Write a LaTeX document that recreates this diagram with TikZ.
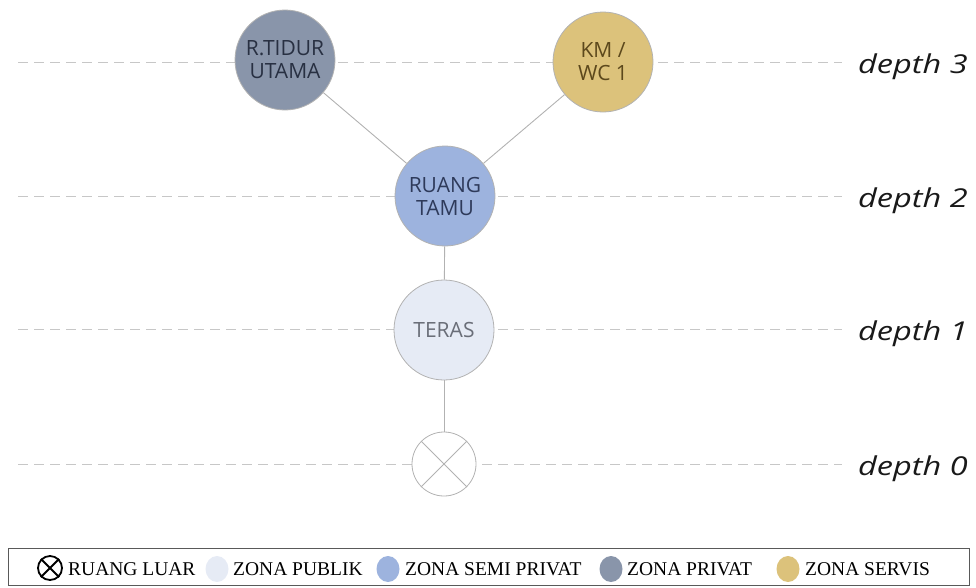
\documentclass[tikz,border=0pt]{standalone}
\usepackage{fontspec}
\usepackage{graphicx}
\setmainfont{Liberation Serif}
\newfontfamily\nodefont{Open Sans}
\usetikzlibrary{shapes.geometric}
\tikzset{
  level/.style={draw=black!22, line width=0.8pt, dash pattern=on 10pt off 6pt},
  link/.style={draw=black!30, line width=0.9pt},
  room/.style={circle, minimum size=100pt, inner sep=0pt, draw=black!30, line width=0.8pt, font=\nodefont\fontsize{21}{23}\selectfont, align=center},
  depthlbl/.style={anchor=base west, inner sep=0pt, font=\nodefont\itshape\fontsize{26}{28}\selectfont, text=black!90},
  legtxt/.style={anchor=base west, inner sep=0pt, font=\fontsize{19.5}{21}\selectfont},
  legdot/.style={ellipse, minimum width=23pt, minimum height=26pt, inner sep=0pt}
}
\definecolor{cpriv}{HTML}{8995AA}
\definecolor{csemi}{HTML}{9DB3DE}
\definecolor{cpub}{HTML}{E6EBF5}
\definecolor{cserv}{HTML}{DCC27B}
\definecolor{tpriv}{HTML}{283042}
\definecolor{tsemi}{HTML}{2E3A5A}
\definecolor{tpub}{HTML}{6A6E78}
\definecolor{tserv}{HTML}{5C481C}
\begin{document}
\begin{tikzpicture}[x=1pt,y=-1pt]
\useasboundingbox (0,0) rectangle (976,587);
% depth levels
\foreach \yy/\n in {62/3,196/2,329/1,464/0}{
  \draw[level] (18,\yy) -- (842,\yy);
  \node[depthlbl] (d\n) at (858,\yy+11) {\scalebox{1.25}[1]{depth \n}};
}
% nodes
\node[room, fill=cpriv, text=tpriv] (tidur) at (285,60) {R.TIDUR\\UTAMA};
\node[room, fill=cserv, text=tserv] (km) at (603,62) {KM /\\WC 1};
\node[room, fill=csemi, text=tsemi] (tamu) at (445,196) {RUANG\\TAMU};
\node[room, fill=cpub, text=tpub] (teras) at (444,330) {TERAS};
\node[circle, minimum size=64pt, inner sep=0pt, draw=black!30, line width=0.8pt, fill=white] (luar) at (444,464) {};
\draw[black!30, line width=0.8pt] (luar.north east) -- (luar.south west) (luar.north west) -- (luar.south east);
% connectors
\draw[link] (tidur) -- (tamu);
\draw[link] (km) -- (tamu);
\draw[link] (tamu) -- (teras);
\draw[link] (teras) -- (luar);
% legend
\draw[black!65, line width=1pt] (8,548) rectangle (969,585);
\node[circle, draw=black, line width=1.8pt, minimum size=24pt, inner sep=0pt] (lx) at (50,568) {};
\draw[black, line width=1.8pt] (lx.north east) -- (lx.south west) (lx.north west) -- (lx.south east);
\node[legtxt] (l1) at (68,575) {RUANG LUAR};
\node[legdot, fill=cpub] (ld2) at (217,569) {};
\node[legtxt] (l2) at (233,575) {ZONA PUBLIK};
\node[legdot, fill=csemi] (ld3) at (388,569) {};
\node[legtxt] (l3) at (405,575) {ZONA SEMI PRIVAT};
\node[legdot, fill=cpriv] (ld4) at (611,569) {};
\node[legtxt] (l4) at (627,575) {ZONA PRIVAT};
\node[legdot, fill=cserv] (ld5) at (788,569) {};
\node[legtxt] (l5) at (805,575) {ZONA SERVIS};
\end{tikzpicture}
\end{document}
